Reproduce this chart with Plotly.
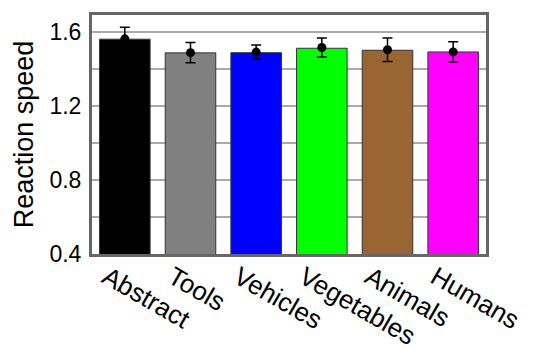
import plotly.graph_objects as go

categories = ["Abstract", "Tools", "Vehicles", "Vegetables", "Animals", "Humans"]
bar_values = [1.563, 1.489, 1.490, 1.514, 1.503, 1.494]
point_values = [1.565, 1.490, 1.493, 1.518, 1.506, 1.494]
error_values = [0.062, 0.055, 0.038, 0.052, 0.064, 0.055]
bar_colors = ["#000000", "#808080", "#0000ff", "#00ff00", "#996633", "#ff00ff"]
y_ticks = [0.4, 0.8, 1.2, 1.6]

font = "Liberation Sans, Arial, Helvetica, sans-serif"

fig = go.Figure()
fig.add_trace(go.Bar(
    x=categories, y=bar_values, base=0,
    marker=dict(color=bar_colors, line=dict(color="#333333", width=1)),
    showlegend=False, hoverinfo="skip",
))
fig.add_trace(go.Scatter(
    x=categories, y=point_values, mode="markers",
    marker=dict(color="black", size=9),
    error_y=dict(type="data", array=error_values, color="black", thickness=1.5, width=5),
    showlegend=False,
))

fig.update_layout(
    width=536, height=347,
    margin=dict(l=84, r=58, t=4, b=98),
    paper_bgcolor="white", plot_bgcolor="white",
    bargap=0.23,
    font=dict(family=font, color="black"),
)
fig.update_xaxes(
    range=[-0.5, 5.5], showgrid=False,
    showline=True, linecolor="#666666", linewidth=3, mirror=True,
    ticks="", tickangle=30, tickfont=dict(size=26),
    ticklabelshift=-18, ticklabelstandoff=-5,
)
fig.update_yaxes(
    range=[0.4, 1.694], tickvals=y_ticks, ticktext=[f"{v:.1f}" for v in y_ticks],
    showgrid=True, gridcolor="#aaaaaa", gridwidth=2,
    minor=dict(dtick=0.2, showgrid=True, gridcolor="#aaaaaa", gridwidth=2),
    showline=True, linecolor="#666666", linewidth=3, mirror=True,
    ticks="", ticklabelstandoff=3,
    tickfont=dict(size=23),
    title=dict(text="Reaction speed", font=dict(size=27), standoff=8),
    zeroline=False,
)

fig.write_html("out.html")
